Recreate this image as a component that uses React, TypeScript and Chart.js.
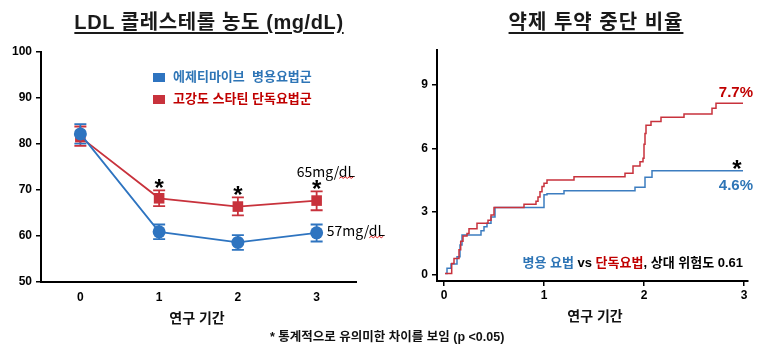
import React, { useEffect, useRef } from 'react';
import { Chart, registerables } from 'chart.js';
Chart.register(...registerables);

// ---------- data ----------
const visits = [0, 1, 2, 3];
const comboMean = [82.2, 60.9, 58.6, 60.7];
const comboUpper = [84.3, 62.5, 60.2, 62.5];
const comboLower = [80.1, 59.3, 57.0, 58.8];
const monoMean = [81.5, 68.2, 66.4, 67.7];
const monoUpper = [83.8, 69.9, 68.4, 69.7];
const monoLower = [79.6, 66.5, 64.5, 65.6];
const significant = [false, true, true, true];
const ldlTicks = [50, 60, 70, 80, 90, 100];
const yearTicks = [0, 1, 2, 3];

const comboTimes = [0.014, 0.03, 0.07, 0.13, 0.16, 0.18, 0.37, 0.4, 0.43, 0.47, 0.51, 1.0, 1.03, 1.2, 1.91, 2.01, 2.08, 2.99];
const comboRates = [0.08, 0.32, 0.52, 0.87, 1.42, 1.9, 2.1, 2.29, 2.45, 2.75, 3.2, 3.8, 3.85, 4.0, 4.16, 4.63, 4.94, 4.94];
const monoTimes = [0.01, 0.077, 0.1, 0.15, 0.167, 0.19, 0.23, 0.25, 0.33, 0.44, 0.47, 0.5, 0.8, 0.92, 0.94, 0.96, 0.98, 1.0, 1.03, 1.3, 1.81, 1.89, 1.96, 1.99, 2.0, 2.01, 2.02, 2.07, 2.17, 2.4, 2.68, 2.72, 2.99];
const monoRates = [0.08, 0.55, 0.79, 1.2, 1.6, 1.85, 1.97, 2.2, 2.45, 2.6, 2.85, 3.2, 3.35, 3.5, 3.7, 3.95, 4.2, 4.35, 4.5, 4.66, 4.82, 5.17, 5.37, 5.53, 6.2, 6.7, 7.1, 7.27, 7.47, 7.63, 7.9, 8.14, 8.14];
const rateTicks = [0, 3, 6, 9];

const comboLabel = '에제티마이브  병용요법군';
const monoLabel = '고강도 스타틴 단독요법군';
const comboEndLabel = '4.6%';
const monoEndLabel = '7.7%';
const comboFinalText = '57mg/dL';
const monoFinalText = '65mg/dL';

const BLUE = '#2E74C0';
const RED = '#C8323C';
const BLUE_TEXT = '#2E75B6';
const RED_TEXT = '#C00000';
const FAMILY = '"Liberation Sans", "Noto Sans CJK KR", sans-serif';

const tickFont = { family: FAMILY, size: 12, weight: 'bold' as const };

function drawWavy(ctx: CanvasRenderingContext2D, x0: number, x1: number, y: number) {
  ctx.save();
  ctx.strokeStyle = '#E02020';
  ctx.lineWidth = 1;
  ctx.beginPath();
  let up = true;
  ctx.moveTo(x0, y);
  for (let x = x0 + 2; x <= x1; x += 2) {
    ctx.lineTo(x, up ? y - 1.5 : y);
    up = !up;
  }
  ctx.stroke();
  ctx.restore();
}

const ldlPlugin = {
  id: 'ldlExtras',
  beforeDatasetsDraw(chart: any) {
    const { ctx } = chart;
    const xs = chart.scales.x;
    const ys = chart.scales.y;
    const draw = (upper: number[], lower: number[], color: string) => {
      ctx.save();
      ctx.strokeStyle = color;
      ctx.lineWidth = 1.8;
      visits.forEach((v, i) => {
        const x = xs.getPixelForValue(v);
        const yt = ys.getPixelForValue(upper[i]);
        const yb = ys.getPixelForValue(lower[i]);
        ctx.beginPath();
        ctx.moveTo(x, yt); ctx.lineTo(x, yb);
        ctx.moveTo(x - 6, yt); ctx.lineTo(x + 6, yt);
        ctx.moveTo(x - 6, yb); ctx.lineTo(x + 6, yb);
        ctx.stroke();
      });
      ctx.restore();
    };
    draw(monoUpper, monoLower, RED);
    draw(comboUpper, comboLower, BLUE);
  },
  afterDatasetsDraw(chart: any) {
    const { ctx } = chart;
    const xs = chart.scales.x;
    const ys = chart.scales.y;
    ctx.save();
    ctx.fillStyle = '#000';
    ctx.font = `bold 24px ${FAMILY}`;
    ctx.textAlign = 'center';
    ctx.textBaseline = 'alphabetic';
    visits.forEach((v, i) => {
      if (!significant[i]) return;
      const x = xs.getPixelForValue(v);
      const y = ys.getPixelForValue(monoUpper[i]) - 8;
      ctx.fillText('*', x, y + 14);
    });
    // final value labels
    ctx.font = `14px "Noto Sans CJK KR", "Noto Sans", sans-serif`;
    ctx.textAlign = 'left';
    ctx.textBaseline = 'middle';
    const last = visits.length - 1;
    const x3 = xs.getPixelForValue(visits[last]);
    const mx = x3 - 20;
    const my = ys.getPixelForValue(monoUpper[last]) - 20;
    ctx.fillText(monoFinalText, mx, my);
    const w1 = ctx.measureText(monoFinalText.slice(0, 5)).width;
    const w2 = ctx.measureText(monoFinalText).width;
    drawWavy(ctx, mx + w1, mx + w2, my + 7);
    const cx = x3 + 10;
    const cy = ys.getPixelForValue(comboMean[last]) - 2;
    ctx.fillText(comboFinalText, cx, cy);
    const c1 = ctx.measureText(comboFinalText.slice(0, 5)).width;
    const c2 = ctx.measureText(comboFinalText).width;
    drawWavy(ctx, cx + c1, cx + c2, cy + 7);
    ctx.restore();
  },
};

const ratePlugin = {
  id: 'rateExtras',
  afterDatasetsDraw(chart: any) {
    const { ctx } = chart;
    const xs = chart.scales.x;
    const ys = chart.scales.y;
    ctx.save();
    const xEnd = xs.getPixelForValue(comboTimes[comboTimes.length - 1]);
    ctx.textAlign = 'right';
    ctx.textBaseline = 'middle';
    ctx.font = `bold 15px ${FAMILY}`;
    ctx.fillStyle = RED_TEXT;
    ctx.fillText(monoEndLabel, xEnd + 10, ys.getPixelForValue(monoRates[monoRates.length - 1]) - 10);
    ctx.fillStyle = BLUE_TEXT;
    ctx.fillText(comboEndLabel, xEnd + 10, ys.getPixelForValue(comboRates[comboRates.length - 1]) + 15);
    ctx.fillStyle = '#000';
    ctx.font = `bold 24px ${FAMILY}`;
    ctx.textAlign = 'center';
    ctx.textBaseline = 'alphabetic';
    ctx.fillText('*', xEnd - 6, ys.getPixelForValue(comboRates[comboRates.length - 1]) - 8 + 14);
    // hazard ratio text
    const parts: [string, string][] = [
      ['병용 요법', BLUE_TEXT],
      [' vs ', '#000'],
      ['단독요법', RED_TEXT],
      [', 상대 위험도 0.61', '#000'],
    ];
    ctx.font = `bold 13px ${FAMILY}`;
    ctx.textAlign = 'left';
    ctx.textBaseline = 'middle';
    const total = parts.reduce((s, p) => s + ctx.measureText(p[0]).width, 0);
    let x = xEnd - total;
    const y = ys.getPixelForValue(0) - 12;
    parts.forEach(([t, c]) => {
      ctx.fillStyle = c;
      ctx.fillText(t, x, y);
      x += ctx.measureText(t).width;
    });
    ctx.restore();
  },
};

function LdlChart() {
  const ref = useRef<HTMLCanvasElement>(null);
  useEffect(() => {
    const chart = new Chart(ref.current!, {
      type: 'line',
      data: {
        datasets: [
          {
            label: comboLabel,
            data: visits.map((x, i) => ({ x, y: comboMean[i] })),
            borderColor: BLUE,
            backgroundColor: BLUE,
            borderWidth: 1.8,
            pointStyle: 'circle',
            pointRadius: 6.5,
            pointBorderWidth: 0,
          },
          {
            label: monoLabel,
            data: visits.map((x, i) => ({ x, y: monoMean[i] })),
            borderColor: RED,
            backgroundColor: RED,
            borderWidth: 1.8,
            pointStyle: 'rect',
            pointRadius: 7.5,
            pointBorderWidth: 0,
          },
        ],
      },
      options: {
        animation: false,
        responsive: false,
        layout: { padding: { top: 52, right: 44, left: 0, bottom: 0 } },
        plugins: { legend: { display: false }, tooltip: { enabled: false } },
        scales: {
          x: {
            type: 'linear',
            min: -0.5,
            max: 3.5,
            afterBuildTicks: (s: any) => { s.ticks = yearTicks.map((v) => ({ value: v })); },
            afterFit: (s: any) => { s.height = 68; },
            grid: { display: false },
            border: { display: true, color: '#000', width: 2 },
            ticks: { font: tickFont, color: '#000', padding: 0 },
          },
          y: {
            min: 50,
            max: 100,
            afterBuildTicks: (s: any) => { s.ticks = ldlTicks.map((v) => ({ value: v })); },
            afterFit: (s: any) => { s.width = 41; },
            grid: { display: true, drawOnChartArea: false, drawTicks: true, tickLength: 5, color: '#000', lineWidth: 1.5 },
            border: { display: true, color: '#000', width: 2 },
            ticks: { font: tickFont, color: '#000', padding: 4 },
          },
        },
      },
      plugins: [ldlPlugin],
    } as any);
    return () => chart.destroy();
  }, []);
  return <canvas ref={ref} width={400} height={350} style={{ position: 'absolute', left: 0, top: 0, width: 400, height: 350 }} />;
}

function RateChart() {
  const ref = useRef<HTMLCanvasElement>(null);
  useEffect(() => {
    const chart = new Chart(ref.current!, {
      type: 'line',
      data: {
        datasets: [
          {
            label: '단독요법',
            data: monoTimes.map((x, i) => ({ x, y: monoRates[i] })),
            borderColor: RED,
            borderWidth: 1.5,
            pointRadius: 0,
            stepped: 'before',
          },
          {
            label: '병용 요법',
            data: comboTimes.map((x, i) => ({ x, y: comboRates[i] })),
            borderColor: '#3C7DC0',
            borderWidth: 1.5,
            pointRadius: 0,
            stepped: 'before',
          },
        ],
      },
      options: {
        animation: false,
        responsive: false,
        layout: { padding: { top: 50, right: 12, left: 0, bottom: 0 } },
        plugins: { legend: { display: false }, tooltip: { enabled: false } },
        scales: {
          x: {
            type: 'linear',
            min: -0.07,
            max: 3.04,
            afterBuildTicks: (s: any) => { s.ticks = yearTicks.map((v) => ({ value: v })); },
            afterFit: (s: any) => { s.height = 69; },
            grid: { display: true, drawOnChartArea: false, drawTicks: true, tickLength: 5, color: '#000', lineWidth: 1.5 },
            border: { display: true, color: '#000', width: 2 },
            ticks: { font: tickFont, color: '#000', padding: 2 },
          },
          y: {
            min: -0.28,
            max: 10.66,
            afterBuildTicks: (s: any) => { s.ticks = rateTicks.map((v) => ({ value: v })); },
            afterFit: (s: any) => { s.width = 37; },
            grid: { display: true, drawOnChartArea: false, drawTicks: true, tickLength: 5, color: '#000', lineWidth: 1.5 },
            border: { display: true, color: '#000', width: 2 },
            ticks: { font: tickFont, color: '#000', padding: 4 },
          },
        },
      },
      plugins: [ratePlugin],
    } as any);
    return () => chart.destroy();
  }, []);
  return <canvas ref={ref} width={360} height={350} style={{ position: 'absolute', left: 400, top: 0, width: 360, height: 350 }} />;
}

const abs = (o: React.CSSProperties): React.CSSProperties => ({ position: 'absolute', whiteSpace: 'pre', ...o });

export default function App() {
  useEffect(() => {
    document.body.style.margin = '0';
  }, []);
  const titleStyle: React.CSSProperties = {
    fontFamily: FAMILY,
    fontWeight: 'bold',
    fontSize: 20,
    letterSpacing: '0.6px',
    color: '#1a1a1a',
    textDecoration: 'underline',
    textDecorationThickness: '2px',
    textUnderlineOffset: '3px',
    transform: 'translateX(-50%)',
    lineHeight: '24px',
  };
  const small: React.CSSProperties = { fontFamily: FAMILY, fontWeight: 'bold', color: '#111' };
  return (
    <div style={{ position: 'relative', width: 760, height: 350, background: '#fff', overflow: 'hidden' }}>
      <LdlChart />
      <RateChart />
      <div style={abs({ ...titleStyle, left: 209, top: 10 })}>LDL 콜레스테롤 농도 (mg/dL)</div>
      <div style={abs({ ...titleStyle, left: 596, top: 10, letterSpacing: '1px' })}>약제 투약 중단 비율</div>
      {/* legend */}
      <div style={abs({ left: 153, top: 73, width: 12, height: 9, background: BLUE })} />
      <div style={abs({ ...small, left: 173, top: 69, fontSize: 13, lineHeight: '16px', color: BLUE_TEXT })}>{comboLabel}</div>
      <div style={abs({ left: 153, top: 95, width: 12, height: 9, background: RED })} />
      <div style={abs({ ...small, left: 173, top: 91, fontSize: 13, lineHeight: '16px', color: RED_TEXT })}>{monoLabel}</div>
      {/* axis titles */}
      <div style={abs({ ...small, left: 197, top: 310, fontSize: 14, lineHeight: '17px', transform: 'translateX(-50%)' })}>연구 기간</div>
      <div style={abs({ ...small, left: 595, top: 308, fontSize: 14, lineHeight: '17px', transform: 'translateX(-50%)' })}>연구 기간</div>
      <div style={abs({ ...small, left: 270, top: 329, fontSize: 12.5, lineHeight: '16px' })}>* 통계적으로 유의미한 차이를 보임 (p &lt;0.05)</div>
    </div>
  );
}
